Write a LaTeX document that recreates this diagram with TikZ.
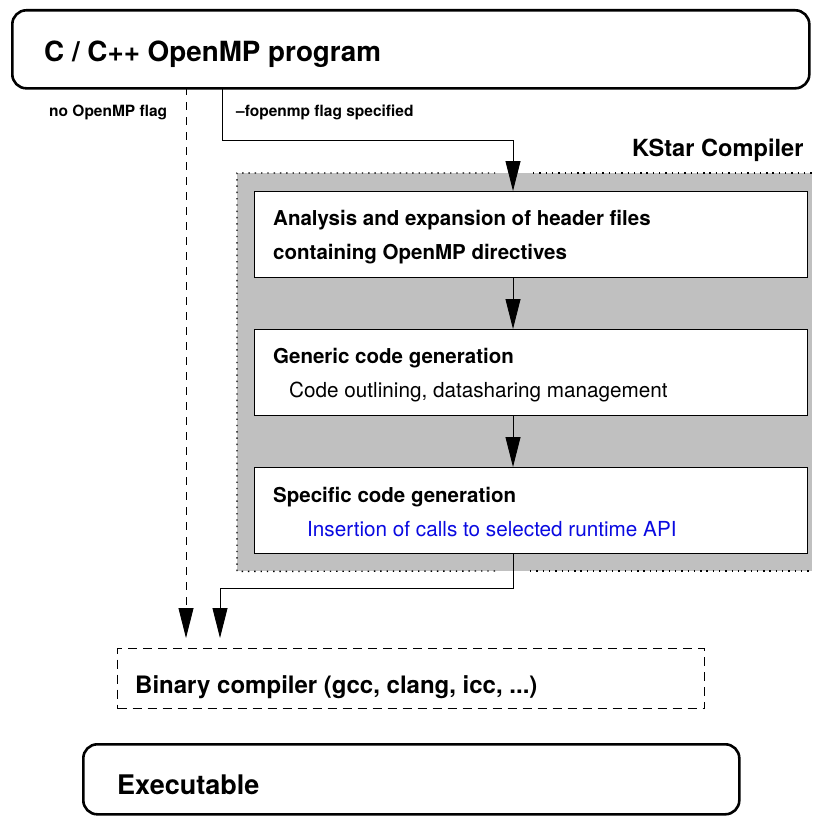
\documentclass[tikz,border=0pt]{standalone}
\usepackage{fontspec}
\setmainfont{TeX Gyre Heros}
\usetikzlibrary{arrows.meta}
\definecolor{kgray}{RGB}{192,192,192}
\definecolor{kblue}{RGB}{10,10,225}
\tikzset{
  roundbox/.style={draw, line width=2.6pt, rounded corners=14pt, inner sep=0pt, anchor=north west},
  stagebox/.style={draw, fill=white, line width=1pt, inner sep=0pt, anchor=north west},
  binbox/.style={draw, line width=1.3pt, dash pattern=on 9pt off 6pt, inner sep=0pt, anchor=north west},
  region/.style={fill=kgray, inner sep=0pt, anchor=north west},
  dotline/.style={line width=1.4pt, dash pattern=on 1.4pt off 4.9pt},
  txt/.style={anchor=base west, inner sep=0pt},
  conn/.style={line width=0.9pt},
  arr/.style={conn, -{Triangle[length=30pt,width=15pt]}},
  dashconn/.style={arr, dash pattern=on 8pt off 7pt},
}
\begin{document}
\begin{tikzpicture}[x=1pt,y=-1pt]
\useasboundingbox (0,0) rectangle (812,816);

% KStar region
\node[region, minimum width=575pt, minimum height=398pt] (kstar) at (237,173) {};
\coordinate (kt1) at (495,173);
\coordinate (kt2) at (533,173);
\coordinate (kt3) at (812,173);
\coordinate (kb1) at (495,571);
\coordinate (kb2) at (530,571);
\coordinate (kb3) at (812,571);
\draw[dotline] (kb1) -- (kstar.south west) -- (kstar.north west) -- (kt1);
\draw[dotline] (kt2) -- (kt3);
\draw[dotline] (kb2) -- (kb3);

% boxes
\node[roundbox, minimum width=797pt, minimum height=78pt] (prog) at (11,9) {};
\node[stagebox, minimum width=553pt, minimum height=86pt] (ana) at (254,191) {};
\node[stagebox, minimum width=553pt, minimum height=86pt] (gen) at (254,329) {};
\node[stagebox, minimum width=553pt, minimum height=86pt] (spec) at (254,467) {};
\node[binbox, minimum width=587pt, minimum height=60pt] (bin) at (117,648) {};
\node[roundbox, minimum width=656pt, minimum height=70pt] (exe) at (82,743) {};

% texts
\node[txt, font=\bfseries\fontsize{27.8}{32}\selectfont] (tprog) at (44,62) {C / C++ OpenMP program};
\node[txt, font=\bfseries\fontsize{15.5}{18}\selectfont] (tno) at (49,116) {no OpenMP flag};
\node[txt, font=\bfseries\fontsize{15.5}{18}\selectfont] (tfo) at (236,116) {–fopenmp flag specified};
\node[txt, font=\bfseries\fontsize{23.6}{28}\selectfont] (tks) at (632,156) {KStar Compiler};
\node[txt, font=\bfseries\fontsize{20.5}{24}\selectfont] (ta1) at (273,225) {Analysis and expansion of header files};
\node[txt, font=\bfseries\fontsize{20.5}{24}\selectfont] (ta2) at (273,259) {containing OpenMP directives};
\node[txt, font=\bfseries\fontsize{20.5}{24}\selectfont] (tg1) at (273,363) {Generic code generation};
\node[txt, font=\fontsize{20.7}{24}\selectfont] (tg2) at (289,397) {Code outlining, datasharing management};
\node[txt, font=\bfseries\fontsize{20.5}{24}\selectfont] (ts1) at (273,502) {Specific code generation};
\node[txt, font=\fontsize{20.7}{24}\selectfont, text=kblue] (ts2) at (307,536) {Insertion of calls to selected runtime API};
\node[txt, font=\bfseries\fontsize{24}{28}\selectfont] (tbin) at (135,693) {Binary compiler (gcc, clang, icc, ...)};
\node[txt, font=\bfseries\fontsize{27}{32}\selectfont] (texe) at (117,794) {Executable};

% connectors
\coordinate (ds) at (186,87);
\coordinate (s1) at (222,87);
\coordinate (s2) at (513,140);
\coordinate (e1) at (220,588);
\draw[dashconn, shorten >=10pt] (ds) -- (ds |- bin.north);
\draw[arr] (s1) |- (s2) -- (s2 |- ana.north);
\draw[arr] (ana.south -| s2) -- (gen.north -| s2);
\draw[arr] (gen.south -| s2) -- (spec.north -| s2);
\draw[arr, shorten >=10pt] (spec.south -| s2) |- (e1) -- (e1 |- bin.north);
\end{tikzpicture}
\end{document}
